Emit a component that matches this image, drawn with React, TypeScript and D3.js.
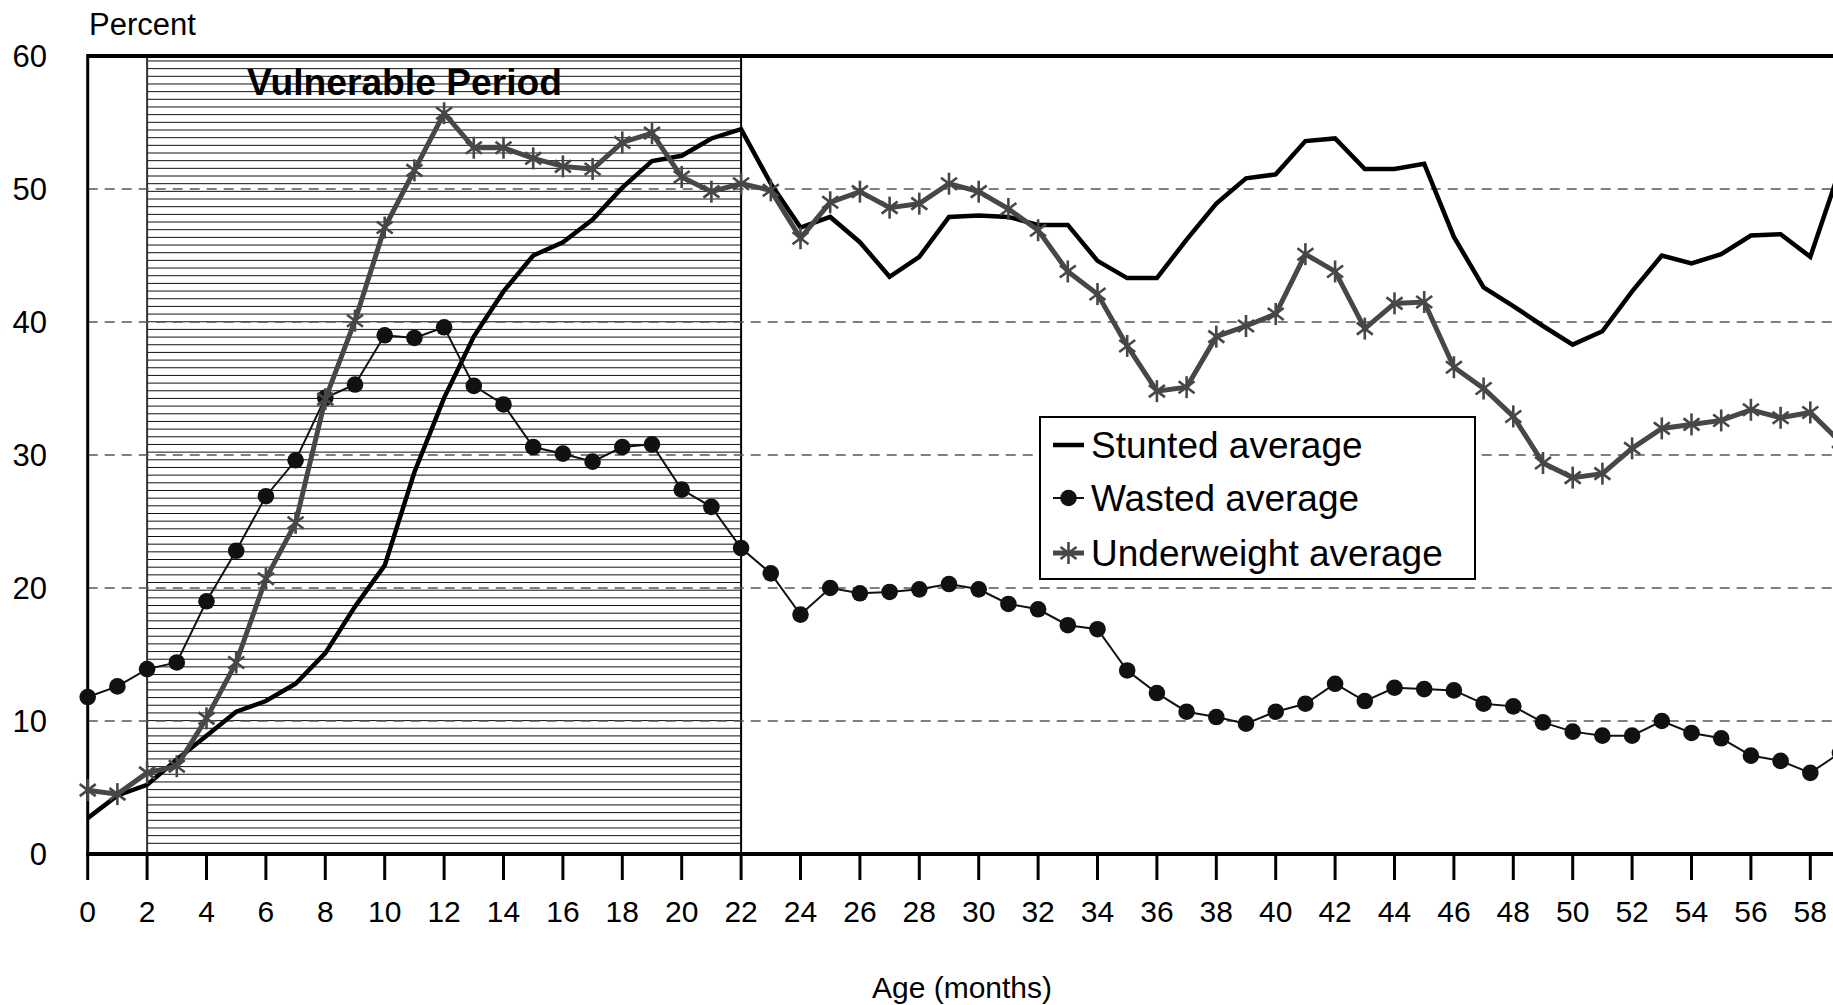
import React from 'react';
import * as d3 from 'd3';

const ageMonths = [0,1,2,3,4,5,6,7,8,9,10,11,12,13,14,15,16,17,18,19,20,21,22,23,24,25,26,27,28,29,30,31,32,33,34,35,36,37,38,39,40,41,42,43,44,45,46,47,48,49,50,51,52,53,54,55,56,57,58,59];
const stunted = [2.7,4.4,5.2,7.1,8.9,10.7,11.5,12.8,15.1,18.6,21.7,28.7,34.3,38.9,42.3,45.0,46.0,47.7,50.1,52.1,52.5,53.8,54.5,50.4,47.1,47.9,46.0,43.4,44.9,47.9,48.0,47.9,47.3,47.3,44.6,43.3,43.3,46.2,48.9,50.8,51.1,53.6,53.8,51.5,51.5,51.9,46.4,42.6,41.2,39.7,38.3,39.3,42.3,45.0,44.4,45.1,46.5,46.6,44.9,51.5];
const wasted = [11.8,12.6,13.9,14.4,19.0,22.8,26.9,29.6,34.3,35.3,39.0,38.8,39.6,35.2,33.8,30.6,30.1,29.5,30.6,30.8,27.4,26.1,23.0,21.1,18.0,20.0,19.6,19.7,19.9,20.3,19.9,18.8,18.4,17.2,16.9,13.8,12.1,10.7,10.3,9.8,10.7,11.3,12.8,11.5,12.5,12.4,12.3,11.3,11.1,9.9,9.2,8.9,8.9,10.0,9.1,8.7,7.4,7.0,6.1,7.6];
const underweight = [4.8,4.5,6.1,6.6,10.2,14.4,20.7,24.9,34.2,40.1,47.1,51.4,55.7,53.1,53.1,52.3,51.7,51.5,53.5,54.2,50.9,49.8,50.4,49.9,46.3,49.0,49.8,48.6,48.9,50.4,49.8,48.5,46.9,43.8,42.1,38.2,34.8,35.1,38.9,39.7,40.6,45.1,43.8,39.5,41.4,41.5,36.6,35.0,32.9,29.4,28.3,28.6,30.5,32.0,32.3,32.6,33.4,32.8,33.2,31.0];
const xTickValues = [0,2,4,6,8,10,12,14,16,18,20,22,24,26,28,30,32,34,36,38,40,42,44,46,48,50,52,54,56,58];
const yTickValues = [0,10,20,30,40,50,60];
const gridValues = [10,20,30,40,50];
const vulnerableStart = 2;
const vulnerableEnd = 22;
const legendLabels = ['Stunted average', 'Wasted average', 'Underweight average'];

const W = 1833, H = 1005;
const FONT = 'Arial, "Liberation Sans", Helvetica, sans-serif';
const GRAY = '#474747';

function Asterisk({ x, y, s = 1 }: { x: number; y: number; s?: number }) {
  return (
    <g transform={`translate(${x},${y})`} stroke={GRAY} strokeWidth={2.6} strokeLinecap="butt">
      <line x1={0} y1={-11 * s} x2={0} y2={11 * s} />
      <line x1={-8 * s} y1={-6 * s} x2={8 * s} y2={6 * s} />
      <line x1={-8 * s} y1={6 * s} x2={8 * s} y2={-6 * s} />
    </g>
  );
}

export default function App() {
  const x = d3.scaleLinear().domain([0, 60]).range([87.7, 87.7 + 60 * 29.7]);
  const y = d3.scaleLinear().domain([0, 60]).range([854, 56]);

  const lineGen = (vals: number[]) =>
    d3.line<number>().x((_, i) => x(ageMonths[i])).y((d) => y(d))(vals) as string;

  const hatchTop = y(60) + 3;
  const hatchLines = d3.range(843.3, hatchTop, -7.67);

  const legX = 1040, legY = 417, legW = 435, legH = 162;
  const rows = [445, 498, 553];

  return (
    <svg width={W} height={H} style={{ position: 'absolute', left: 0, top: 0, display: 'block', background: '#fff' }} fontFamily={FONT}>
      <rect x={0} y={0} width={W} height={H} fill="#fff" />
      {/* Vulnerable period hatch */}
      <g>
        <rect x={x(vulnerableStart)} y={y(60)} width={x(vulnerableEnd) - x(vulnerableStart)} height={y(0) - y(60)} fill="#fff" />
        {hatchLines.map((hy, i) => (
          <line key={i} x1={x(vulnerableStart)} x2={x(vulnerableEnd)} y1={hy} y2={hy} stroke="#111" strokeWidth={1} />
        ))}
        <line x1={x(vulnerableStart)} x2={x(vulnerableStart)} y1={y(60)} y2={y(0)} stroke="#333" strokeWidth={2} />
        <line x1={x(vulnerableEnd)} x2={x(vulnerableEnd)} y1={y(60)} y2={y(0)} stroke="#000" strokeWidth={2} />
      </g>
      {/* gridlines */}
      {gridValues.map((v) => (
        <line key={v} x1={x(0)} x2={x(60)} y1={y(v)} y2={y(v)} stroke="#555" strokeWidth={1.4} strokeDasharray="10,7" />
      ))}
      {/* plot frame */}
      <line x1={x(0)} x2={x(60)} y1={y(60)} y2={y(60)} stroke="#000" strokeWidth={4} />
      <line x1={x(0)} x2={x(0)} y1={y(60) - 2} y2={y(0)} stroke="#000" strokeWidth={3} />
      <line x1={x(60)} x2={x(60)} y1={y(60) - 2} y2={y(0)} stroke="#000" strokeWidth={3} />
      <line x1={x(0) - 1.5} x2={x(60)} y1={y(0)} y2={y(0)} stroke="#000" strokeWidth={4} />
      {/* x ticks */}
      {xTickValues.map((t) => (
        <g key={t}>
          <line x1={x(t)} x2={x(t)} y1={y(0)} y2={880} stroke="#000" strokeWidth={3} />
          <text x={x(t)} y={922} textAnchor="middle" fontSize={30} fill="#000">{t}</text>
        </g>
      ))}
      <line x1={x(60)} x2={x(60)} y1={y(0)} y2={880} stroke="#000" strokeWidth={3} />
      {/* y labels */}
      {yTickValues.map((t) => (
        <text key={t} x={47} y={y(t) + 11} textAnchor="end" fontSize={31} fill="#000">{t}</text>
      ))}
      <text x={89} y={35} fontSize={31} fill="#000">Percent</text>
      <text x={962} y={998} textAnchor="middle" fontSize={30} fill="#000">Age (months)</text>
      <text x={247} y={95} fontSize={36} fontWeight="bold" fill="#000" textLength={315} lengthAdjust="spacingAndGlyphs">Vulnerable Period</text>

      {/* series */}
      <path d={lineGen(stunted)} fill="none" stroke="#000" strokeWidth={4.5} strokeLinejoin="miter" />
      <path d={lineGen(wasted)} fill="none" stroke="#111" strokeWidth={2} />
      {wasted.map((v, i) => (
        <circle key={i} cx={x(ageMonths[i])} cy={y(v)} r={8.3} fill="#111" />
      ))}
      <path d={lineGen(underweight)} fill="none" stroke={GRAY} strokeWidth={5} />
      {underweight.map((v, i) => (
        <Asterisk key={i} x={x(ageMonths[i])} y={y(v)} />
      ))}

      {/* legend */}
      <rect x={legX} y={legY} width={legW} height={legH} fill="#fff" stroke="#000" strokeWidth={2} />
      <line x1={1053} x2={1084} y1={rows[0]} y2={rows[0]} stroke="#000" strokeWidth={4.5} />
      <line x1={1053} x2={1084} y1={rows[1]} y2={rows[1]} stroke="#111" strokeWidth={2} />
      <circle cx={1068.5} cy={rows[1]} r={8.3} fill="#111" />
      <line x1={1053} x2={1084} y1={rows[2]} y2={rows[2]} stroke={GRAY} strokeWidth={5} />
      <Asterisk x={1068.5} y={rows[2]} />
      {legendLabels.map((l, i) => (
        <text key={l} x={1091} y={rows[i] + 13} fontSize={37} fill="#000">{l}</text>
      ))}
    </svg>
  );
}
